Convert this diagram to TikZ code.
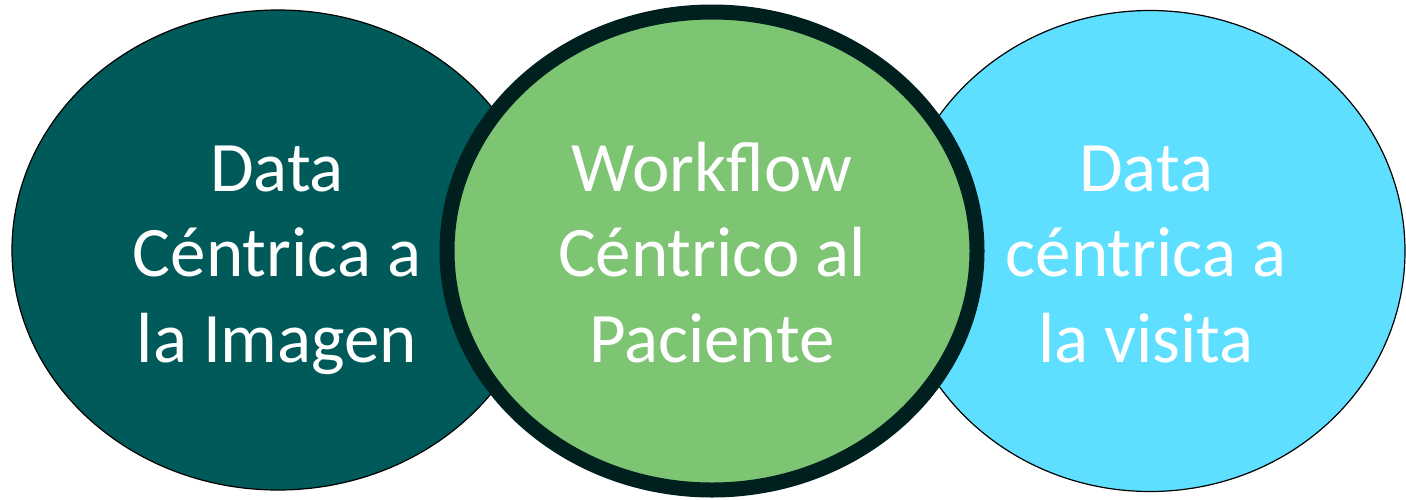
\documentclass[tikz,border=0pt]{standalone}
\usepackage{fontspec}
\setmainfont{Carlito}
\usetikzlibrary{shapes.geometric}
\definecolor{tealdark}{RGB}{0,90,90}
\definecolor{leafgreen}{RGB}{125,196,115}
\definecolor{rimdark}{RGB}{0,32,32}
\definecolor{skycyan}{RGB}{95,223,255}
\begin{document}
\begin{tikzpicture}[x=1pt,y=-1pt]
\tikzset{
  blob/.style={ellipse, inner sep=0pt, outer sep=0pt},
  lbl/.style={text=white, font=\fontsize{71}{85.5}\selectfont, align=center, inner sep=0pt, anchor=base}
}
\useasboundingbox (0,0) rectangle (1406,499);
\node[blob, draw=black, line width=1.2pt, fill=tealdark, minimum width=532, minimum height=480] (left) at (278,250) {};
\node[blob, draw=black, line width=1.2pt, fill=skycyan, minimum width=510, minimum height=481] (right) at (1150,251) {};
\node[blob, draw=rimdark, line width=15pt, fill=leafgreen, minimum width=530, minimum height=478] (mid) at (712,251) {};
\node[lbl] (lefttext) at (277,362) {Data\\Céntrica a\\la Imagen};
\node[lbl] (midtext) at (712,362) {Workflow\\Céntrico al\\Paciente};
\node[lbl] (righttext) at (1146,362) {Data\\céntrica a\\la visita};
\end{tikzpicture}
\end{document}
